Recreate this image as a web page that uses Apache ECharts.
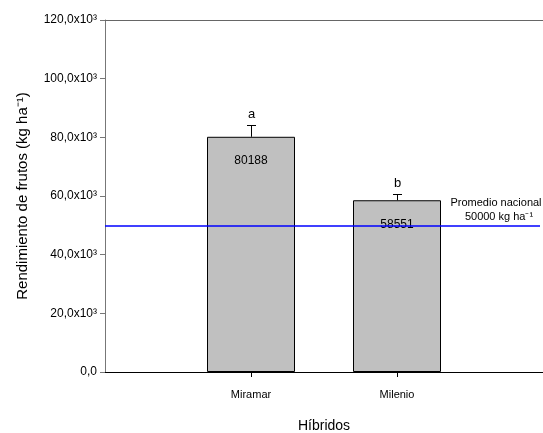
<!DOCTYPE html>
<html><head><meta charset="utf-8">
<script src="https://cdn.jsdelivr.net/npm/echarts@6/dist/echarts.min.js"></script>
<style>html,body{margin:0;padding:0;background:#fff}#c{width:543px;height:433px}</style>
</head><body><div id="c"></div>
<script>
const categories = ['Miramar', 'Milenio'];
const yields = [80188, 58551];
const errors = [3900, 2100];
const letters = ['a', 'b'];
const nationalAvg = 50000;
const avgLabel = ['Promedio nacional', '50000 kg ha⁻¹'];
const yTickLabels = ['0,0', '20,0x10³', '40,0x10³', '60,0x10³', '80,0x10³', '100,0x10³', '120,0x10³'];

const axisCats = [''].concat(categories, ['']);
const font = 'Liberation Sans, Arial, sans-serif';
const chart = echarts.init(document.getElementById('c'));
chart.setOption({
  animation: false,
  textStyle: { fontFamily: font },
  grid: { left: 105, right: 0, top: 20, bottom: 61, containLabel: false, outerBoundsMode: 'none' },
  xAxis: [{
    type: 'category', data: axisCats, boundaryGap: false,
    axisLine: { lineStyle: { color: '#000', width: 1 } },
    axisTick: { length: 5, interval: (i) => i > 0 && i < axisCats.length - 1, lineStyle: { color: '#000' } },
    axisLabel: { color: '#000', fontSize: 11, margin: 17, interval: 0 },
    name: 'Híbridos', nameLocation: 'middle', nameGap: 47,
    nameTextStyle: { color: '#000', fontSize: 14 }
  }, {
    type: 'category', data: axisCats, boundaryGap: false, position: 'top',
    axisLine: { lineStyle: { color: '#666', width: 1 } },
    axisTick: { show: false }, axisLabel: { show: false }
  }],
  yAxis: {
    type: 'value', min: 0, max: 120000, interval: 20000,
    splitLine: { show: false },
    axisLine: { show: true, lineStyle: { color: '#777', width: 1 } },
    axisTick: { show: true, length: 5, lineStyle: { color: '#777' } },
    axisLabel: { color: '#000', fontSize: 12, margin: 8,
      formatter: (v) => yTickLabels[Math.round(v / 20000)] },
    name: 'Rendimiento de frutos (kg ha⁻¹)', nameLocation: 'middle', nameGap: 75,
    nameTextStyle: { color: '#000', fontSize: 15 }
  },
  series: [{
    type: 'bar', barWidth: 88,
    data: yields.map((v, i) => [i + 1, v]),
    itemStyle: { color: '#c0c0c0', borderColor: '#000', borderWidth: 1 },
    label: { show: true, position: 'insideTop', distance: 18, color: '#000', fontSize: 12,
      formatter: (p) => String(p.value[1]) },
    z: 2
  }, {
    type: 'custom',
    data: [[0, nationalAvg]],
    renderItem: (params, api) => {
      const cs = params.coordSys;
      const p = api.coord([0, api.value(1)]);
      const y = Math.round(p[1]) + 1;
      const right = cs.x + cs.width;
      return { type: 'group', children: [
        { type: 'line', shape: { x1: cs.x, y1: y, x2: right - 3, y2: y }, style: { stroke: '#0000ff', lineWidth: 1.5 } },
        { type: 'text', x: right - 47, y: y - 23, style: { text: avgLabel[0], fill: '#000', font: '11px ' + font, align: 'center', verticalAlign: 'middle' } },
        { type: 'text', x: right - 44, y: y - 9, style: { text: avgLabel[1], fill: '#000', font: '11px ' + font, align: 'center', verticalAlign: 'middle' } }
      ] };
    },
    z: 4
  }, {
    type: 'custom',
    data: yields.map((v, i) => [i + 1, v, errors[i]]),
    renderItem: (params, api) => {
      const x = api.value(0), v = api.value(1), e = api.value(2);
      const base = api.coord([x, v]);
      const top = api.coord([x, v + e]);
      const cx = Math.round(base[0]) + 0.5;
      const ty = Math.round(top[1]) + 0.5;
      const letter = letters[params.dataIndex];
      return { type: 'group', children: [
        { type: 'line', shape: { x1: cx, y1: base[1], x2: cx, y2: ty }, style: { stroke: '#000', lineWidth: 1 } },
        { type: 'line', shape: { x1: cx - 4.5, y1: ty, x2: cx + 4.5, y2: ty }, style: { stroke: '#000', lineWidth: 1 } },
        { type: 'text', x: cx, y: ty - 5, style: { text: letter, fill: '#000', font: '13px ' + font, align: 'center', verticalAlign: 'bottom' } }
      ] };
    },
    z: 3
  }]
});
</script></body></html>
